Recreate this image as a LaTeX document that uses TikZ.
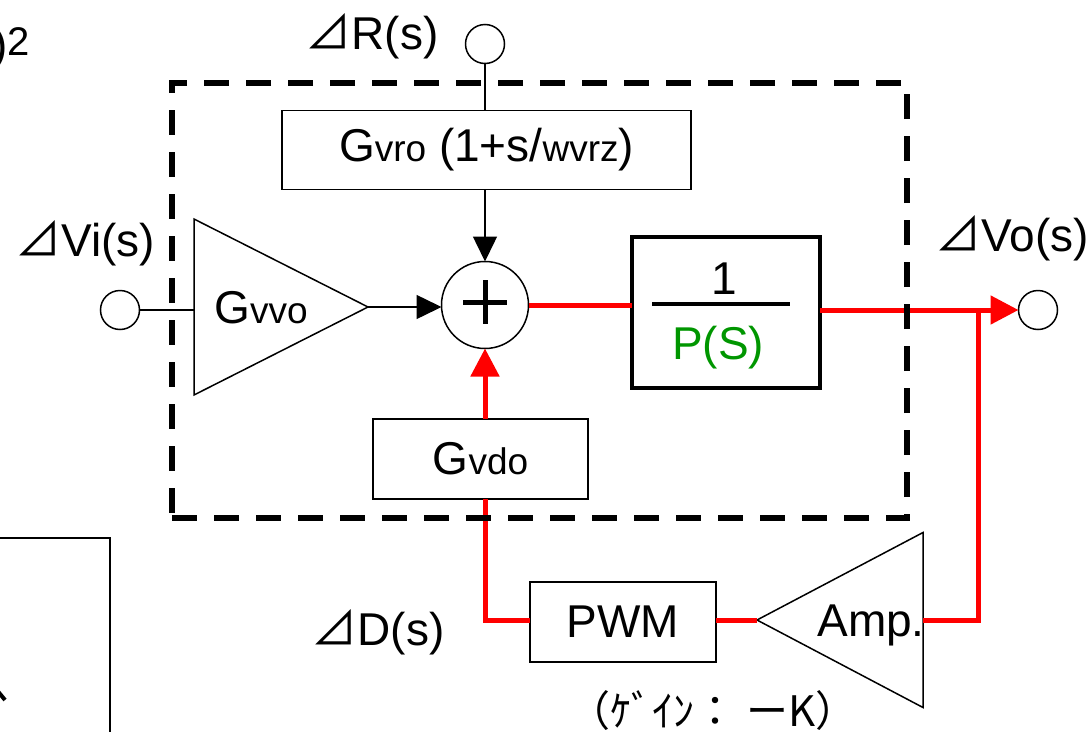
\documentclass[tikz,border=0pt]{standalone}
\usepackage{fontspec}
\setmainfont{Liberation Sans}
\newfontfamily\jpfont{Noto Sans CJK JP}
\usetikzlibrary{arrows.meta,positioning,shapes.geometric}
\definecolor{fbred}{RGB}{255,0,0}
\definecolor{pgreen}{RGB}{0,150,0}
\newcommand{\dtri}{{\jpfont ⊿}}
\newcommand{\lsz}[1]{{\fontsize{37}{40}\selectfont #1}}

\begin{document}
\begin{tikzpicture}[
      x=1pt, y=-1pt,
      font=\fontsize{46}{52}\selectfont,
      box/.style={draw, line width=1.5pt, inner sep=0pt, outer sep=0pt},
      port/.style={circle, draw, line width=1.5pt, minimum size=39pt, inner sep=0pt, outer sep=0pt},
      gaintri/.style={isosceles triangle, isosceles triangle stretches, draw, line width=1.5pt, inner sep=0pt, outer sep=0pt},
      txt/.style={inner sep=0pt},
      sig/.style={line width=1.5pt},
      fb/.style={line width=5pt, draw=fbred},
      arr/.style={-{Triangle[length=25pt,width=24pt]}, sig},
      fbarr/.style={-{Triangle[length=28pt,width=28pt]}, fb, fill=fbred},
      dashbox/.style={draw, line width=6pt, dash pattern=on 25pt off 17pt, inner sep=0pt, outer sep=0pt}
    ]
      \useasboundingbox (0,0) rectangle (1092,731);

      % ports
      \node[port] (vi) at (120,310) {};
      \node[port] (rin) at (485,44) {};
      \node[port] (vo) at (1038,310) {};
      \node[txt] (vilbl) at (85,243) {\dtri Vi(s)};
      \node[txt] (rlbl) at (372,36) {\dtri R(s)};
      \node[txt] (volbl) at (1012,238) {\dtri Vo(s)};

      % blocks
      \node[box, minimum width=409, minimum height=79] (gvro) at (486.5,150) {G\lsz{vro} (1+s/\lsz{wvrz})};
      \node[gaintri, minimum width=176, minimum height=174, anchor=apex] (gvvo) at (368,307) {};
      \node[txt] (gvvolbl) at (261,308) {G\lsz{vvo}};
      \node[circle, draw, line width=1.5pt, minimum size=87pt, inner sep=0pt, outer sep=0pt,
            path picture={\draw[line width=5pt] (path picture bounding box.center) +(-22,-3) -- +(22,-3)
                          (path picture bounding box.center) +(0,-25) -- +(0,19);}] (sum) at (485,305) {};
      \node[box, line width=4pt, minimum width=188, minimum height=151] (plant) at (726,312.5) {};
      \node[txt] (pnum) at (724,279) {1};
      \node[fill, minimum width=138, minimum height=4.5, inner sep=0pt] (pbar) at (721,304) {};
      \node[txt, text=pgreen] (pden) at (718,348) {P(S)};
      \node[box, minimum width=215, minimum height=80] (gvdo) at (480.5,459) {G\lsz{vdo}};
      \node[box, minimum width=186, minimum height=80] (pwm) at (623,622) {PWM};
      \node[gaintri, shape border rotate=180, minimum width=175, minimum height=166, anchor=apex] (amp) at (757,620) {};
      \node[txt] (amplbl) at (871,625) {Amp.};
      \node[txt] (dlbl) at (378,632) {\dtri D(s)};
      \node[txt] (gainlbl) at (713,711) {\fontsize{42}{46}\jpfont （ｹﾞｲﾝ： ーK）};

      % forward path
      \draw[sig] (vi.east) -- (vi.east -| gvvo.lower side);
      \draw[sig] (rin.south) -- (rin.south |- gvro.north);
      \draw[arr] (gvro.south -| sum.north) -- (sum.north);
      \draw[arr] (gvvo.apex) -- (gvvo.apex -| sum.west);
      \draw[fb] (sum.east) -- (sum.east -| plant.west);
      \coordinate (tap) at (978,310);
      \draw[fbarr] (plant.east |- vo.west) -- (vo.west);

      % feedback path
      \draw[fb] (tap) |- (amp.lower side);
      \draw[fb] (amp.apex) -- (amp.apex -| pwm.east);
      \draw[fb] (pwm.west |- amp.apex) -| (sum.south |- gvdo.south);
      \draw[fbarr] (sum.south |- gvdo.north) -- (sum.south);

      \node[dashbox, minimum width=735, minimum height=435] (vbox) at (539.5,300.5) {};

      % pieces of the neighbouring figures
      \node[txt, anchor=base east] (sqfrag) at (30,60) {)\raisebox{5pt}{\fontsize{40}{40}\selectfont 2}};
      \draw[line width=1.5pt] (-5,538) -- (110,538) -- (110,740);
      \draw[line width=4pt] (-4,689) -- (5,700);
    \end{tikzpicture}
\end{document}
